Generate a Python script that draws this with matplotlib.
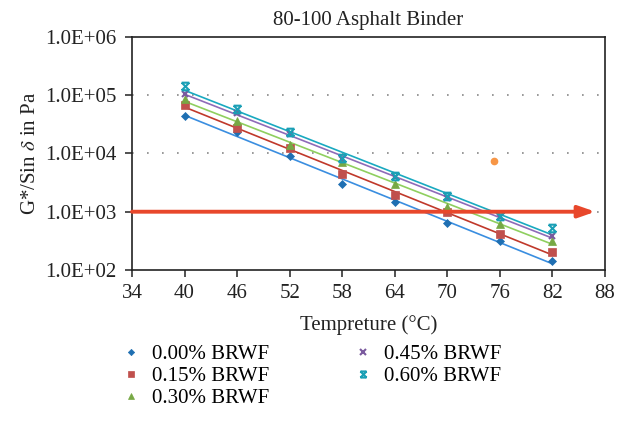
import numpy as np
import matplotlib.pyplot as plt
from matplotlib.path import Path
from matplotlib.ticker import FixedLocator, FuncFormatter

plt.rcParams['font.family'] = ['Liberation Serif', 'DejaVu Serif']
plt.rcParams['mathtext.fontset'] = 'stix'

temps = [40, 46, 52, 58, 64, 70, 76, 82]
brwf_000 = [44000, 23000, 9100, 3000, 1440, 645, 310, 140]
brwf_015 = [68000, 27500, 12500, 4450, 1930, 980, 413, 203]
brwf_030 = [85000, 36700, 14100, 7100, 3000, 1200, 620, 316]
brwf_045 = [104000, 49000, 21800, 8000, 3900, 1690, 807, 376]
brwf_060 = [145000, 57000, 23000, 8500, 4130, 1870, 850, 525]
labels = ['0.00% BRWF', '0.15% BRWF', '0.30% BRWF', '0.45% BRWF', '0.60% BRWF']

stray_temp = [75.3]
stray_val = [7400]
limit_val = 1000

# hourglass-like "x with bars" marker (Excel style)
M, L = Path.MOVETO, Path.LINETO
xbar = Path([(-1, -1), (1, 1), (-1, 1), (1, -1), (-1, 1), (1, 1), (-1, -1), (1, -1)],
            [M, L, M, L, M, L, M, L])

series = [brwf_000, brwf_015, brwf_030, brwf_045, brwf_060]
marker_colors = ['#1f6fb2', '#c0504d', '#77a844', '#7a5a9e', '#1a9fb5']
line_colors = ['#3a8ee0', '#c0392b', '#8fcf5f', '#8e6bb8', '#19a9c0']
markers = ['D', 's', '^', 'x', xbar]
msizes = [4, 5.5, 6, 5, 5.5]

fig = plt.figure(figsize=(6.25, 4.34), dpi=100)
ax = fig.add_axes([0.2112, 0.378, 0.7568, 0.5367])

x = np.array(temps, dtype=float)
for i, (vals, lab, mc, lc, mk, ms) in enumerate(zip(series, labels, marker_colors,
                                                     line_colors, markers, msizes)):
    y = np.array(vals, dtype=float)
    ax.plot(x, y, linestyle='none', marker=mk, color=mc, markersize=ms,
            markeredgewidth=1.5 if i >= 3 else 0.5, label=lab, zorder=4)
    # exponential trendline
    k, b = np.polyfit(x, np.log10(y), 1)
    ax.plot(x, 10 ** (k * x + b), color=lc, lw=1.2, zorder=3)

ax.plot(stray_temp, stray_val, linestyle='none', marker='o', color='#f79646',
        markersize=4.5, zorder=4)

ax.annotate('', xy=(86.9, limit_val), xytext=(34, limit_val),
            arrowprops=dict(arrowstyle='-|>,head_length=1.0,head_width=0.35',
                            color='#e8472b', lw=2.8, shrinkA=0, shrinkB=0),
            zorder=5)

ax.set_yscale('log')
ax.set_xlim(34, 88)
ax.set_ylim(1e2, 1e6)
ax.xaxis.set_major_locator(FixedLocator(np.arange(34, 89, 6)))
ax.yaxis.set_major_locator(FixedLocator([1e2, 1e3, 1e4, 1e5, 1e6]))
ax.yaxis.set_minor_locator(FixedLocator([]))
ax.yaxis.set_major_formatter(FuncFormatter(lambda v, p: '1.0E+%02d' % round(np.log10(v))))

for g in [1e3, 1e4, 1e5]:
    ax.axhline(g, color='#888888', lw=1.2, linestyle=(0, (1, 8)), zorder=1)

for s in ax.spines.values():
    s.set_color('#222222')
    s.set_linewidth(1.2)
ax.tick_params(axis='both', direction='out', length=5, width=1.1, color='#222222',
               labelsize=15, labelcolor='#222222')
ax.tick_params(axis='x', pad=5)
ax.tick_params(axis='y', pad=6)

ax.set_xlabel('Tempreture (°C)', fontsize=15, color='#222222', labelpad=9)
ax.set_ylabel('G*/Sin $\\delta$ in Pa', fontsize=15, color='#222222', labelpad=4)
ax.set_title('80-100 Asphalt Binder', fontsize=15, color='#222222', pad=9)

fig.legend(loc='upper left', bbox_to_anchor=(0.18, 0.225), ncol=2, frameon=False,
           fontsize=15, markerscale=0.8, handlelength=1.0, handletextpad=0.5,
           columnspacing=4.0, labelspacing=0.12, borderaxespad=0)

fig.savefig('out.png', dpi=100)
